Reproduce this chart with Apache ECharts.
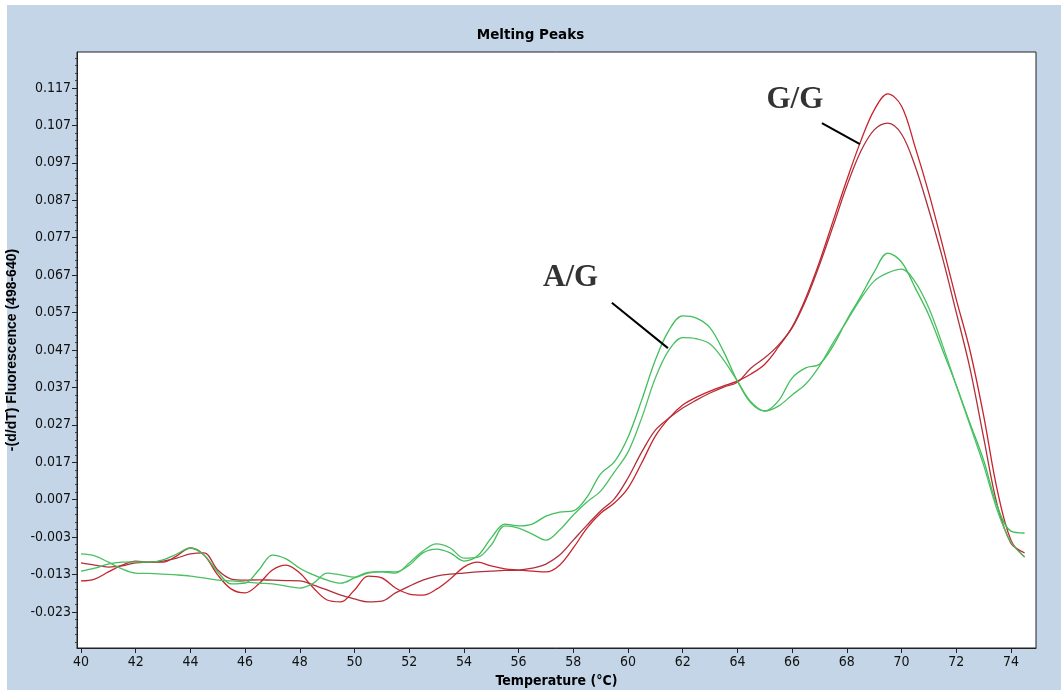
<!DOCTYPE html>
<html>
<head>
<meta charset="utf-8">
<script src="https://cdn.jsdelivr.net/npm/echarts@6/dist/echarts.min.js"></script>
<style>
html,body{margin:0;padding:0;background:#ffffff;}
#chart{width:1061px;height:693px;}
</style>
</head>
<body>
<div id="chart"></div>
<script>
// Temperature grid (°C)
const temps = [40,40.5,41,41.5,42,42.5,43,43.5,44,44.5,45,45.5,46,46.5,47,47.5,48,48.5,49,49.5,50,50.5,51,51.5,52,52.5,53,53.5,54,54.5,55,55.5,56,56.5,57,57.5,58,58.5,59,59.5,60,60.5,61,61.5,62,62.5,63,63.5,64,64.5,65,65.5,66,66.5,67,67.5,68,68.5,69,69.5,70,70.5,71,71.5,72,72.5,73,73.5,74,74.5];

// G/G samples (red)
const gg1 = [-0.0147,-0.0142,-0.0123,-0.0105,-0.0094,-0.0097,-0.0097,-0.0080,-0.0059,-0.0078,-0.0131,-0.0169,-0.0179,-0.0155,-0.0118,-0.0105,-0.0126,-0.0166,-0.0198,-0.0203,-0.0171,-0.0134,-0.0139,-0.0166,-0.0182,-0.0185,-0.0169,-0.0142,-0.0110,-0.0097,-0.0107,-0.0115,-0.0118,-0.0121,-0.0123,-0.0105,-0.0059,-0.0006,0.0034,0.0061,0.0101,0.0168,0.0240,0.0288,0.0323,0.0344,0.0360,0.0374,0.0387,0.0406,0.0432,0.0478,0.0531,0.0609,0.0705,0.0815,0.0924,0.1026,0.1111,0.1154,0.1122,0.1012,0.0889,0.0750,0.0606,0.0470,0.0296,0.0096,-0.0038,-0.0083];
const gg2 = [-0.0099,-0.0105,-0.0110,-0.0107,-0.0099,-0.0097,-0.0094,-0.0086,-0.0075,-0.0072,-0.0118,-0.0142,-0.0145,-0.0144,-0.0145,-0.0146,-0.0147,-0.0158,-0.0171,-0.0185,-0.0195,-0.0203,-0.0201,-0.0179,-0.0161,-0.0145,-0.0134,-0.0129,-0.0126,-0.0123,-0.0121,-0.0119,-0.0118,-0.0113,-0.0102,-0.0078,-0.0038,0.0002,0.0040,0.0072,0.0128,0.0197,0.0256,0.0288,0.0315,0.0336,0.0355,0.0371,0.0384,0.0422,0.0449,0.0483,0.0529,0.0603,0.0697,0.0801,0.0908,0.0999,0.1058,0.1076,0.1047,0.0961,0.0844,0.0716,0.0571,0.0422,0.0237,0.0056,-0.0046,-0.0072];

// A/G samples (green)
const ag1 = [-0.0121,-0.0113,-0.0102,-0.0097,-0.0096,-0.0097,-0.0091,-0.0075,-0.0059,-0.0078,-0.0123,-0.0155,-0.0153,-0.0118,-0.0078,-0.0088,-0.0113,-0.0131,-0.0145,-0.0153,-0.0139,-0.0124,-0.0122,-0.0123,-0.0105,-0.0072,-0.0062,-0.0072,-0.0094,-0.0080,-0.0032,0.0005,0.0000,0.0005,0.0026,0.0037,0.0040,0.0077,0.0139,0.0171,0.0237,0.0336,0.0443,0.0523,0.0561,0.0555,0.0529,0.0465,0.0387,0.0328,0.0307,0.0334,0.0395,0.0422,0.0432,0.0481,0.0550,0.0612,0.0678,0.0729,0.0705,0.0636,0.0563,0.0470,0.0376,0.0275,0.0176,0.0053,-0.0014,-0.0019];
const ag2 = [-0.0075,-0.0080,-0.0097,-0.0115,-0.0126,-0.0127,-0.0129,-0.0131,-0.0134,-0.0139,-0.0145,-0.0147,-0.0150,-0.0153,-0.0155,-0.0161,-0.0166,-0.0153,-0.0126,-0.0131,-0.0137,-0.0126,-0.0123,-0.0126,-0.0099,-0.0067,-0.0048,-0.0059,-0.0086,-0.0084,-0.0051,0.0000,-0.0006,-0.0022,-0.0038,-0.0011,0.0029,0.0064,0.0093,0.0144,0.0197,0.0288,0.0395,0.0470,0.0503,0.0500,0.0486,0.0443,0.0387,0.0331,0.0307,0.0320,0.0350,0.0379,0.0427,0.0489,0.0547,0.0606,0.0654,0.0676,0.0686,0.0652,0.0582,0.0483,0.0376,0.0270,0.0163,0.0042,-0.0043,-0.0083];

// Axis ticks
const xTicks = [40,42,44,46,48,50,52,54,56,58,60,62,64,66,68,70,72,74];
const yTicks = [-0.023,-0.013,-0.003,0.007,0.017,0.027,0.037,0.047,0.057,0.067,0.077,0.087,0.097,0.107,0.117];
const yMinorTicks = [-0.031,-0.029,-0.027,-0.025,-0.021,-0.019,-0.017,-0.015,-0.011,-0.009,-0.007,-0.005,-0.001,0.001,0.003,0.005,0.009,0.011,0.013,0.015,0.019,0.021,0.023,0.025,0.029,0.031,0.033,0.035,0.039,0.041,0.043,0.045,0.049,0.051,0.053,0.055,0.059,0.061,0.063,0.065,0.069,0.071,0.073,0.075,0.079,0.081,0.083,0.085,0.089,0.091,0.093,0.095,0.099,0.101,0.103,0.105,0.109,0.111,0.113,0.115,0.119,0.121,0.123,0.125];

// Annotations (label position, pointer line ends), in data units
const annLabels = ['G/G','A/G'];
const annTextPos = [[66.1,0.1138],[57.9,0.0662]];
const annLines = [[[67.09,0.1076],[68.48,0.1020]],[[59.41,0.0596],[61.46,0.0475]]];

const narrow = "'Liberation Sans Narrow','DejaVu Sans Condensed','Roboto Condensed',Arial,sans-serif";
const pair = arr => temps.map((t,i)=>[t,arr[i]]);

const chart = echarts.init(document.getElementById('chart'), null, {renderer:'canvas'});

const series = [];
const curveDefs = [
  {name:'G/G 1', data:gg1, color:'#c8232c'},
  {name:'G/G 2', data:gg2, color:'#b0303a'},
  {name:'A/G 1', data:ag1, color:'#3fbf5a'},
  {name:'A/G 2', data:ag2, color:'#4cc063'}
];
curveDefs.forEach(c=>{
  series.push({type:'line', name:c.name, data:pair(c.data), smooth:0.35, showSymbol:false, symbol:'none',
    lineStyle:{color:c.color, width:1.3}, z:3, animation:false});
});
annLines.forEach((seg,i)=>{
  series.push({type:'line', name:'ptr'+i, data:seg, smooth:false, symbol:'none',
    lineStyle:{color:'#000', width:2}, z:5, animation:false});
});
const annFont = {show:true, position:'inside', color:'#000', fontFamily:"'Liberation Serif','Times New Roman',serif", fontWeight:'bold', fontSize:31};
series.push({type:'scatter', name:'labels', symbolSize:1, z:6, animation:false,
  itemStyle:{color:'#ffffff'},
  data: annTextPos.map((p,i)=>({value:p, label:Object.assign({}, annFont, {formatter:annLabels[i]})})),
  label:annFont
});
series.push({type:'line', yAxisIndex:1, data:[], symbol:'none'});

chart.setOption({
  animation:false,
  backgroundColor:'#ffffff',
  graphic:[{type:'rect', shape:{x:7,y:5,width:1054,height:685}, style:{fill:'#c3d5e7'}, z:-10, silent:true}],
  title:{text:'Melting Peaks', left:'center', top:23,
    textStyle:{fontFamily:"'DejaVu Sans',Arial,sans-serif", fontWeight:'bold', fontSize:13.5, color:'#000'}},
  grid:{left:77, right:25, top:52, bottom:45, outerBoundsMode:'none', containLabel:false, show:true, backgroundColor:'#ffffff', borderColor:'#222', borderWidth:1},
  xAxis:{type:'value', min:39.854, max:74.918,
    name:'Temperature (°C)', nameLocation:'middle', nameGap:26,
    nameTextStyle:{fontFamily:narrow, fontWeight:'bold', fontSize:14, color:'#000'},
    axisLine:{show:true, onZero:false, lineStyle:{color:'#222'}},
    axisTick:{show:true, length:5, customValues:xTicks, lineStyle:{color:'#222'}},
    axisLabel:{customValues:xTicks, fontFamily:narrow, fontSize:14, color:'#111', margin:7, showMinLabel:true, showMaxLabel:true},
    splitLine:{show:false}},
  yAxis:[{type:'value', min:-0.03262, max:0.12661,
    name:'-(d/dT) Fluorescence (498-640)', nameLocation:'middle', nameGap:47, nameRotate:90,
    nameTextStyle:{fontFamily:"'Liberation Sans',Arial,sans-serif", fontWeight:'bold', fontSize:14, color:'#000'},
    axisLine:{show:true, onZero:false, lineStyle:{color:'#222'}},
    axisTick:{show:true, length:5, customValues:yTicks, lineStyle:{color:'#222'}},
    axisLabel:{customValues:yTicks, formatter:v=>v.toFixed(3), fontFamily:narrow, fontSize:14, color:'#111', margin:6},
    splitLine:{show:false}},
   {type:'value', min:-0.03262, max:0.12661, position:'left',
    axisLine:{show:false}, axisLabel:{show:false}, splitLine:{show:false},
    axisTick:{show:true, length:2, customValues:yMinorTicks, lineStyle:{color:'#444'}}}],
  series:series
});
</script>
</body>
</html>
